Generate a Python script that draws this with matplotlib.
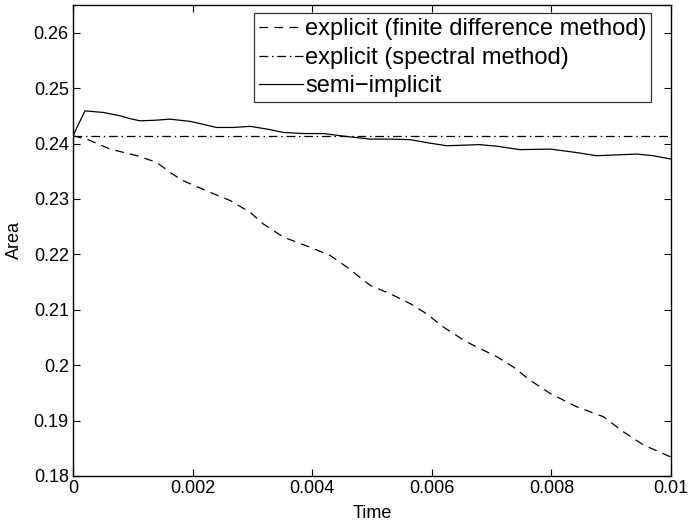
import matplotlib
matplotlib.use("Agg")
import matplotlib.pyplot as plt

plt.rcParams['font.family'] = ['Liberation Sans', 'DejaVu Sans']

# explicit (finite difference method)
t_fd = [0.0, 0.00023, 0.00062, 0.00107, 0.0014, 0.00162, 0.00184, 0.00229,
        0.00263, 0.00296, 0.00318, 0.00352, 0.00396, 0.0043, 0.00458, 0.00497,
        0.0053, 0.00564, 0.00591, 0.00619, 0.00658, 0.00709, 0.00736, 0.00764,
        0.00798, 0.00842, 0.00887, 0.0092, 0.00954, 0.01]
a_fd = [0.2414, 0.2408, 0.2390, 0.2378, 0.2366, 0.2348, 0.2333, 0.2312,
        0.2297, 0.2276, 0.2255, 0.2231, 0.2213, 0.2198, 0.2177, 0.2144,
        0.2129, 0.2111, 0.2093, 0.2069, 0.2042, 0.2015, 0.1997, 0.1973,
        0.1949, 0.1925, 0.1907, 0.1880, 0.1856, 0.1834]

# explicit (spectral method)
t_sp = [0.0, 0.01]
a_sp = [0.2414, 0.2414]

# semi-implicit
t_si = [0.0, 0.0002, 0.00051, 0.00079, 0.00095, 0.00112, 0.00137, 0.00162,
        0.00196, 0.0022, 0.0024, 0.00268, 0.00296, 0.00325, 0.00352, 0.00385,
        0.00419, 0.00455, 0.00497, 0.0053, 0.00564, 0.00595, 0.00625, 0.0068,
        0.0071, 0.00747, 0.00798, 0.0084, 0.00876, 0.00943, 0.0097, 0.01]
a_si = [0.2414, 0.2459, 0.2456, 0.2450, 0.2445, 0.2441, 0.2442, 0.2444,
        0.2440, 0.2434, 0.2429, 0.2429, 0.2431, 0.2426, 0.2420, 0.2418,
        0.2418, 0.2413, 0.2408, 0.2408, 0.2407, 0.2401, 0.2396, 0.2398,
        0.2395, 0.2389, 0.2390, 0.2384, 0.2378, 0.2381, 0.2378, 0.2372]

fig = plt.figure(figsize=(6.88, 5.21), dpi=100)
ax = fig.add_axes([0.1061, 0.0864, 0.8692, 0.904])

lw = 0.9
ax.plot(t_fd, a_fd, color='k', lw=lw, linestyle=(0, (7, 5)),
        label='explicit (finite difference method)')
ax.plot(t_sp, a_sp, color='k', lw=lw, linestyle=(0, (7, 3, 1.2, 3)),
        label='explicit (spectral method)')
ax.plot(t_si, a_si, color='k', lw=lw, linestyle='-', label='semi\u2212implicit')

ax.set_xlim(0, 0.01)
ax.set_ylim(0.18, 0.265)
ax.set_xticks([0, 0.002, 0.004, 0.006, 0.008, 0.01])
ax.set_xticklabels(['0', '0.002', '0.004', '0.006', '0.008', '0.01'])
ax.set_yticks([0.18, 0.19, 0.2, 0.21, 0.22, 0.23, 0.24, 0.25, 0.26])
ax.set_yticklabels(['0.18', '0.19', '0.2', '0.21', '0.22', '0.23', '0.24', '0.25', '0.26'])
ax.tick_params(direction='in', top=True, right=True, length=5, width=0.8,
               labelsize=13, pad=3)
for s in ax.spines.values():
    s.set_linewidth(1.0)

ax.set_xlabel('Time', fontsize=13)
ax.xaxis.set_label_coords(0.5, -0.062)
ax.set_ylabel('Area', fontsize=13)
ax.yaxis.set_label_coords(-0.084, 0.5)

leg = ax.legend(loc='upper right', bbox_to_anchor=(0.967, 0.982),
                fontsize=17, frameon=True, fancybox=False,
                edgecolor='k', handlelength=1.85, handletextpad=0.1,
                labelspacing=0.28, borderpad=0.2, borderaxespad=0.0)
leg.get_frame().set_linewidth(0.9)

fig.savefig('out.png', dpi=100)
